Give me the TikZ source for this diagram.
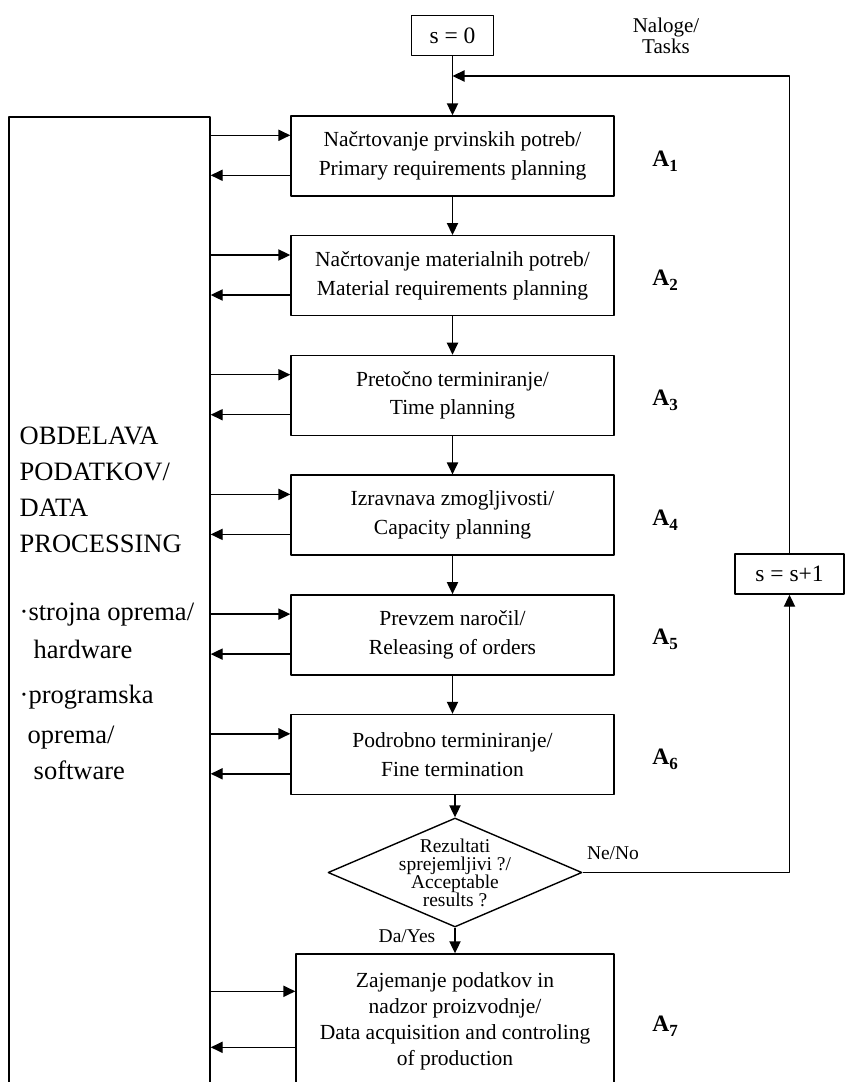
\documentclass[tikz,border=0pt]{standalone}
\usepackage{fontspec}
\setmainfont{Liberation Serif}
\usetikzlibrary{arrows.meta, shapes.geometric}

\newcommand{\alabel}[1]{\textbf{A}\raisebox{-5pt}{\fontsize{17}{17}\selectfont\bfseries #1}}

\begin{document}
\begin{tikzpicture}[x=1pt, y=-1pt, line join=round, line width=1.4pt,
	>={Stealth[inset=0pt,length=12pt,angle'=50]},
	every node/.style={font=\fontsize{21.5}{28.5}\selectfont},
	stage/.style={draw, minimum width=323pt, minimum height=80pt, align=center, inner sep=0pt},
	counter/.style={draw, minimum height=40pt, inner sep=0pt, font=\fontsize{23.5}{23.5}\selectfont},
	decision/.style={draw, diamond, aspect=2.33, minimum width=254pt, minimum height=109pt,
		inner sep=-5pt, align=center, font=\fontsize{19.5}{18}\selectfont},
	alab/.style={anchor=base west, inner sep=0pt, font=\fontsize{23.5}{23.5}\selectfont},
	dptext/.style={anchor=base west, inner sep=0pt, font=\fontsize{26.5}{26.5}\selectfont},
	note/.style={anchor=base, inner sep=0pt, font=\fontsize{19.5}{19.5}\selectfont}]
	\useasboundingbox[fill=white] (0,0) rectangle (847,1082);
	\clip (0,0) rectangle (847,1082);
	% start and counter
	\node[counter, minimum width=82pt] (s0) at (452.5,35.5) {s = 0};
	\node[align=center, font=\fontsize{21}{21}\selectfont] (tasks) at (666,36) {Naloge/\\Tasks};
	\node[counter, minimum width=109pt] (inc) at (789.5,574) {s = s+1};
	\coordinate (join) at (452.5,76);
	% stages
	\node[stage] (A1) at (452.5,156) {Načrtovanje prvinskih potreb/\\Primary requirements planning};
	\node[stage] (A2) at (452.5,275.7) {Načrtovanje materialnih potreb/\\Material requirements planning};
	\node[stage] (A3) at (452.5,395.4) {Pretočno terminiranje/\\Time planning};
	\node[stage] (A4) at (452.5,515.1) {Izravnava zmogljivosti/\\Capacity planning};
	\node[stage] (A5) at (452.5,634.8) {Prevzem naročil/\\Releasing of orders};
	\node[stage] (A6) at (452.5,754.5) {Podrobno terminiranje/\\Fine termination};
	\node[decision] (dec) at (455,872.5) {Rezultati\\sprejemljivi ?/\\Acceptable\\results ?};
	\node[stage, minimum width=318pt, minimum height=134pt, font=\fontsize{21.5}{26}\selectfont] (A7) at (455,1021)
		{Zajemanje podatkov in\\nadzor proizvodnje/\\Data acquisition and controling\\of production};
	\foreach \k in {1,...,7}
		\node[alab, xshift=37pt, yshift=-10pt] (a\k) at (A\k.east) {\alabel{\k}};
	\node[note] (no) at (613,859) {Ne/No};
	\node[note] (yes) at (407,942) {Da/Yes};
	% data processing
	\node[draw, minimum width=201pt, minimum height=1000pt, inner sep=0pt] (dp) at (109.5,617) {};
	\node[dptext] (dp1) at (19,444) {OBDELAVA};
	\node[dptext] (dp2) at (19,480) {PODATKOV/};
	\node[dptext] (dp3) at (19,516) {DATA};
	\node[dptext] (dp4) at (19,552) {PROCESSING};
	\node[dptext] (hw1) at (19,620) {·strojna oprema/};
	\node[dptext] (hw2) at (33,658) {hardware};
	\node[dptext] (sw1) at (19,703) {·programska};
	\node[dptext] (sw2) at (27,743) {oprema/};
	\node[dptext] (sw3) at (33,779) {software};
	% flow
	\draw[->] (s0.south) -- (A1.north);
	\draw[->] (inc.north) |- (join);
	\foreach \k [evaluate=\k as \n using int(\k+1)] in {1,...,5}
		\draw[->] (A\k) -- (A\n);
	\draw[->] (A6.south -| dec.north) -- (dec.north);
	\draw[->] (dec.east) -| (inc.south);
	\draw[->] (dec.south) -- (A7.north);
	% links to data processing
	\foreach \k in {1,...,6} {
		\coordinate (in\k) at ([yshift=-20pt]A\k.north west);
		\coordinate (out\k) at ([yshift=-60pt]A\k.north west);
		\draw[->] (in\k -| dp.east) -- (in\k);
		\draw[->] (out\k) -- (out\k -| dp.east);
	}
	\coordinate (in7) at ([yshift=-38pt]A7.north west);
	\coordinate (out7) at ([yshift=-94pt]A7.north west);
	\draw[->] (in7 -| dp.east) -- (in7);
	\draw[->] (out7) -- (out7 -| dp.east);
\end{tikzpicture}
\end{document}
